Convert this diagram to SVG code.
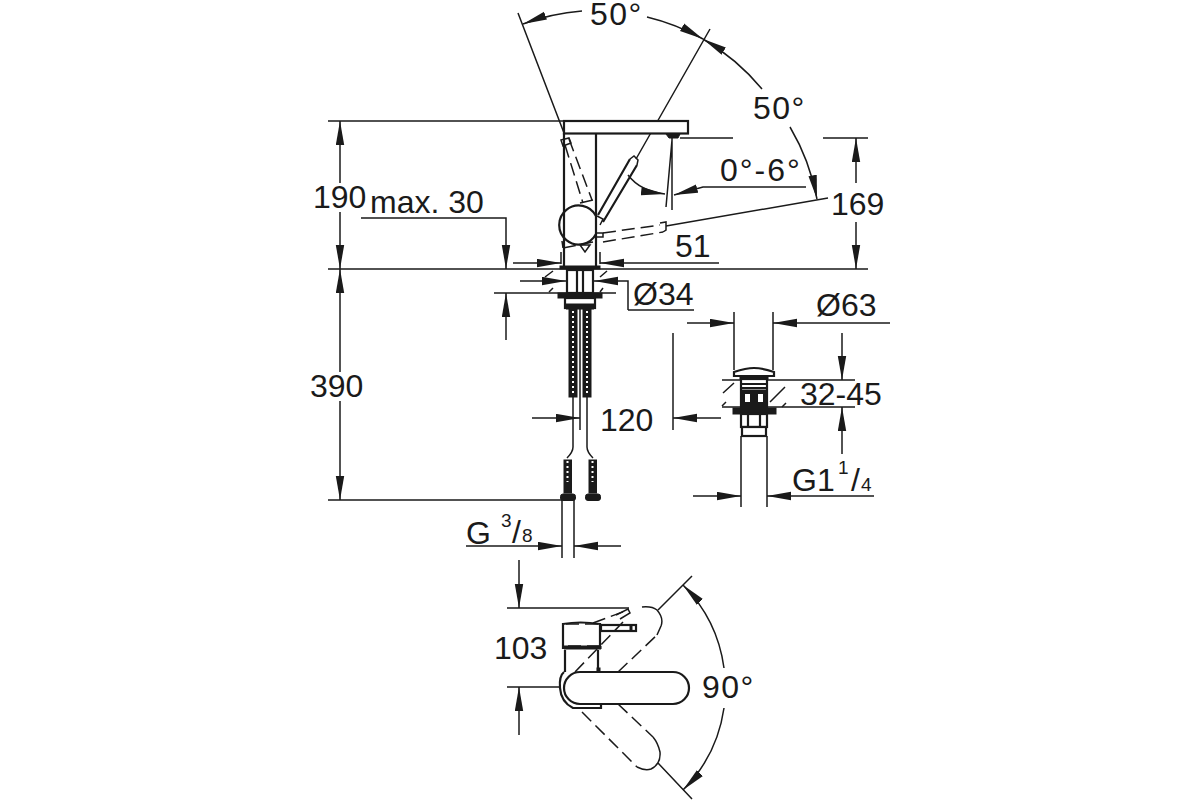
<svg xmlns="http://www.w3.org/2000/svg" width="1200" height="800" viewBox="0 0 1200 800">
<style>
text{font-family:"Liberation Sans",Arial,sans-serif;font-size:32px;fill:#1a1a1a}
.s{font-size:19px}
.g{letter-spacing:1.5px}
.d{fill:none;stroke:#1a1a1a;stroke-width:1.5}
.a{fill:none;stroke:#1a1a1a;stroke-width:1.5;marker-end:url(#ah)}
.o{fill:#fff;stroke:#1a1a1a;stroke-width:2.2}
.n{fill:none;stroke:#1a1a1a;stroke-width:2.2}
.h{fill:none;stroke:#1a1a1a;stroke-width:1.5;stroke-dasharray:13 6}
.k{fill:#1a1a1a;stroke:#1a1a1a}
.b{fill:none;stroke:#fff;stroke-width:2;stroke-dasharray:2 3}
</style>
<defs>
<marker id="ah" markerUnits="userSpaceOnUse" markerWidth="26" markerHeight="10" refX="24" refY="4.5" orient="auto"><path d="M0,0.3 L24,4.5 L0,8.7 Z" fill="#1a1a1a"/></marker>
</defs>
<rect width="1200" height="800" fill="#fff"/>
<g id="connectors">
<path class="d" d="M328,121H564M328,269H868M328,500H562M823,138H868M680,138H733"/>
<path class="a" d="M340,183V121"/><path class="a" d="M340,212V269"/>
<path class="a" d="M340,372V269"/><path class="a" d="M340,401V500"/>
<path class="a" d="M361,218H506V269"/>
<path class="a" d="M513,263H561"/><path class="a" d="M719,263H600"/>
<path class="a" d="M856,183V138"/><path class="a" d="M856,222V269"/>
<path class="d" d="M518,13L564,133M710,29L636,159M828,198L666,226"/>
<path class="a" d="M582,11A221,221 0 0 0 523,24"/>
<path class="a" d="M647,17A221,221 0 0 1 703,39"/>
<path class="a" d="M762,89A221,221 0 0 0 703,39"/>
<path class="a" d="M790,127A221,221 0 0 1 817,199"/>
<path class="a" d="M806,187H703L674,195"/>
<path class="a" d="M628,175Q640,191 665,194"/>
<path class="d" d="M672,138V210M672,140L666,207"/>
<path class="d" d="M494,293H616"/>
<path class="a" d="M506,340V293"/>
<path class="a" d="M520,281H566"/>
<path class="a" d="M628,310V281H594"/>
<path class="d" d="M628,310H694"/>
<path class="d" d="M545,277L553,271M600,277L607,271M549,292L553,288M600,292L603,288"/>
<path class="d" d="M580,300V430"/>
<path class="a" d="M532,418H580"/>
<path class="d" d="M673,333V430"/>
<path class="a" d="M721,418H673"/>
<path class="d" d="M734,312V370M773,312V370"/>
<path class="a" d="M687,323H734"/><path class="a" d="M890,323H773"/>
<path class="d" d="M722,380H855M722,407H855"/>
<path class="d" d="M723,393L734,383M722,406L726,402M770,402L785,387M782,407L786,403"/>
<path class="a" d="M842,333V380"/><path class="a" d="M842,454V407"/>
<path class="d" d="M741,436V507M767,436V507"/>
<path class="a" d="M693,496H741"/><path class="a" d="M874,496H767"/>
<path class="d" d="M562,500V558M574,500V558"/>
<path class="a" d="M466,546H562"/><path class="a" d="M621,546H574"/>
<path class="a" d="M519,560V608"/><path class="d" d="M507,608H629M507,687H559"/>
<path class="a" d="M519,735V687"/>
<path class="d" d="M692,576L658,610M658,763L692,799"/>
<path class="a" d="M724,668A145,145 0 0 0 683,585"/>
<path class="a" d="M724,708A145,145 0 0 1 683,790"/>
</g>
<g id="faucet">
<path class="n" d="M564,133V266M596,133V266"/>
<rect class="o" x="564" y="121" width="124" height="12.5"/>
<path class="k" d="M666,134H680L678,138H669Z"/>
<path class="d" d="M561,252V264M600,252V264"/>
<path class="n" d="M596,216A19.500,19.500 0 1 0 596,234"/>
<path class="n" d="M630,159L598,215M637,165L603,222"/>
<path class="d" d="M630,159L634,156L638,160L637,165"/>
<path class="h" d="M565,145L583,203M569,139L592,200M603,233L660,225M603,242L663,232M563,248L593,242"/>
<path class="d" d="M561,140L569,138L571,143L563,146ZM580,203L593,200M660,223L666,222V230L663,232M562,241L563,248M580,245L590,245L585,252ZM597,216L603,219L600,225M596,233H603V237H596Z"/>
</g>
<g id="mount">
<rect class="k" x="560" y="266" width="40" height="3"/>
<rect class="o" x="567" y="270" width="26" height="23"/>
<path class="n" d="M577,270V293M583,270V293"/>
<rect class="k" x="558" y="293" width="44" height="5"/>
<rect class="o" x="565" y="298" width="30" height="10"/>
<path class="k" d="M566,304H594V309H566Z"/>
<rect class="k" x="569" y="309" width="8" height="88"/>
<rect class="k" x="583" y="309" width="8" height="88"/>
<path class="b" d="M573,311V396M587,311V396"/>
<path class="d" d="M573,397V447Q573,452 567,458M587,397V447Q587,452 593,458"/>
</g>
<g id="screws">
<rect class="k" x="564" y="460" width="7.500" height="33"/>
<rect class="k" x="589" y="460" width="7.500" height="33"/>
<path class="b" d="M567.500,461V482M592.500,461V482"/>
<rect class="k" x="560.500" y="494" width="15" height="6.500" rx="2.500"/>
<rect class="k" x="585.500" y="494" width="15" height="6.500" rx="2.500"/>
</g>
<g id="drain">
<path class="o" d="M734,376V372Q746,368 754,368Q762,368 774,372V376Z"/>
<rect class="k" x="740" y="376" width="28" height="3"/>
<rect class="o" x="741" y="379" width="26" height="29"/>
<path class="n" d="M741,384H767M741,388H767"/>
<rect class="k" x="741" y="390" width="26" height="17"/>
<rect x="745" y="394" width="5" height="8" fill="#fff"/>
<rect x="758" y="394" width="5" height="8" fill="#fff"/>
<rect class="k" x="733" y="408" width="43" height="6"/>
<rect class="o" x="741" y="414" width="26" height="13"/>
<path class="n" d="M748,414V427M760,414V427"/>
<rect class="o" x="742" y="427" width="24" height="9"/>
</g>
<g id="top-view">
<path class="n" d="M565,650V672M598,650V672"/>
<path class="n" d="M563,648V624Q580,621 600,624V648Z"/>
<path class="k" d="M564,646H601V649H564Z"/>
<rect class="n" x="601" y="625" width="35" height="6"/>
<rect class="k" x="630" y="625" width="2" height="6"/>
<path class="n" d="M564,672Q559,676 560,688Q561,702 573,708H601V704"/>
<rect class="o" x="564" y="672" width="125" height="32" rx="16"/>
<rect class="k" x="597" y="668" width="3" height="4"/>
<path class="h" d="M575,672L623,622M618,672L657,635M593,623L628,610M582,712L637,767M618,704L653,737"/>
<path class="h" stroke-dasharray="6 4" d="M563,625V645M568,646H600M566,624H598"/>
<path class="d" d="M642,607Q652,606 657,610Q664,618 661,626L657,635M637,767Q645,771 651,769Q661,764 660,752Q658,743 653,737M616,615L628,609L630,613L620,619"/>
</g>
<g id="labels">
<text x="313" y="208">190</text>
<text x="370" y="213">max. 30</text>
<text x="310" y="397">390</text>
<text x="675" y="257">51</text>
<text x="831" y="215">169</text>
<text class="g" x="590" y="25">50°</text>
<text class="g" x="753" y="119">50°</text>
<text x="720" y="181" style="letter-spacing:2px">0°-6°</text>
<text x="633" y="305">Ø34</text>
<text x="816" y="316">Ø63</text>
<text x="800" y="405">32-45</text>
<text x="600" y="431">120</text>
<text x="792" y="491">G1</text>
<text class="s" x="838" y="474">1</text>
<text x="851" y="491">/</text>
<text class="s" x="861" y="491">4</text>
<text x="466" y="544">G</text>
<text class="s" x="501" y="527">3</text>
<text x="512" y="543">/</text>
<text class="s" x="522" y="542">8</text>
<text x="494" y="659">103</text>
<text class="g" x="702" y="698">90°</text>
</g>
</svg>
